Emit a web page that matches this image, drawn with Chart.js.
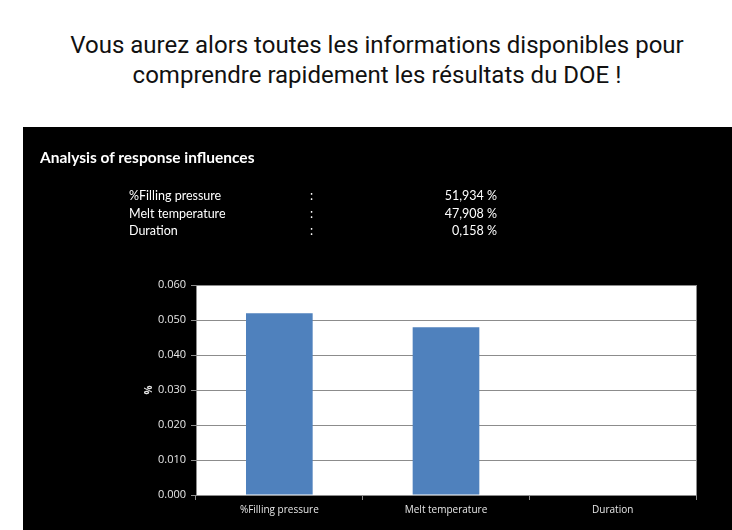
<!DOCTYPE html>
<html lang="fr">
<head>
<meta charset="UTF-8">
<title>Analysis of response influences</title>
<script src="https://cdn.jsdelivr.net/npm/chart.js@4"></script>
<style>
    html, body { margin: 0; padding: 0; background: #fff; }
    body { width: 732px; height: 530px; position: relative; overflow: hidden; }
    .headline {
        position: absolute; left: 0; top: 30px; width: 754px;
        text-align: center; font-family: Roboto, sans-serif; font-size: 24px;
        line-height: 30px; color: #111;
    }
    .panel {
        position: absolute; left: 23px; top: 127px; width: 709px; height: 403px;
        background: #000;
    }
    .panel h2 {
        position: absolute; left: 17px; top: 21px; margin: 0;
        font-family: Lato, sans-serif; font-weight: bold; font-size: 15.5px; color: #fff;
    }
    #stats { position: absolute; left: 0; top: 61px; font-family: Lato, sans-serif; font-size: 12.5px; color: #fff; }
    #stats div { position: relative; height: 17.5px; width: 709px; }
    #stats span { position: absolute; top: 0; white-space: nowrap; }
    #influenceChart { position: absolute; left: 0; top: 0; }
</style>
</head>
<body>
<div class="headline">Vous aurez alors toutes les informations disponibles pour<br>comprendre rapidement les résultats du DOE !</div>
<div class="panel">
    <canvas id="influenceChart" width="709" height="403"></canvas>
    <h2>Analysis of response influences</h2>
    <div id="stats"></div>
</div>
<script>
    const factors = ['%Filling pressure', 'Melt temperature', 'Duration'];
    const influencePct = ['51,934', '47,908', '0,158'];
    const influence = [0.051934, 0.047908, 0.000158];
    const yTicks = [0, 0.01, 0.02, 0.03, 0.04, 0.05, 0.06];

    // text table above the chart
    const stats = document.getElementById('stats');
    factors.forEach((f, i) => {
        const row = document.createElement('div');
        row.innerHTML = '<span style="left:106px">' + f + '</span>' +
            '<span style="left:287px">:</span>' +
            '<span style="right:235px">' + influencePct[i] + ' %</span>';
        stats.appendChild(row);
    });

    // white plot area under the gridlines, plus the grey right edge
    const plotBackground = {
        id: 'plotBackground',
        beforeDraw(chart) {
            const a = chart.chartArea, ctx = chart.ctx;
            ctx.save();
            ctx.fillStyle = '#fff';
            ctx.fillRect(a.left, a.top, a.right - a.left, a.bottom - a.top);
            ctx.restore();
        },
        afterDraw(chart) {
            const a = chart.chartArea, ctx = chart.ctx;
            ctx.save();
            ctx.strokeStyle = '#8c8c8c';
            ctx.lineWidth = 1;
            ctx.beginPath();
            ctx.moveTo(a.right + 0.5, a.top);
            ctx.lineTo(a.right + 0.5, a.bottom);
            ctx.stroke();
            ctx.restore();
        }
    };

    const font = "'Open Sans', sans-serif";

    new Chart(document.getElementById('influenceChart'), {
        type: 'bar',
        data: {
            labels: factors,
            datasets: [{
                data: influence,
                backgroundColor: '#4f81bd',
                borderWidth: 0,
                categoryPercentage: 0.4,
                barPercentage: 1
            }]
        },
        options: {
            responsive: false,
            animation: false,
            layout: { padding: { left: 120, right: 36, top: 158, bottom: 8 } },
            plugins: { legend: { display: false }, tooltip: { enabled: false } },
            scales: {
                x: {
                    grid: { drawOnChartArea: false, drawTicks: true, tickLength: 5, color: '#8c8c8c', offset: true },
                    border: { color: '#8c8c8c' },
                    ticks: { color: '#e6e6e6', font: { family: font, size: 10 }, padding: 4, maxRotation: 0 },
                    afterFit(scale) { scale.height = 27; }
                },
                y: {
                    min: 0,
                    max: 0.06,
                    afterBuildTicks(scale) { scale.ticks = yTicks.map(v => ({ value: v })); },
                    grid: { color: '#8c8c8c', tickLength: 5 },
                    border: { color: '#8c8c8c' },
                    ticks: { color: '#e6e6e6', font: { family: font, size: 11 }, padding: 5, callback: v => v.toFixed(3) },
                    title: { display: true, text: '%', color: '#e6e6e6', font: { family: font, size: 10, weight: 'bold' }, padding: 0 },
                    afterFit(scale) { scale.width = 53; }
                }
            }
        },
        plugins: [plotBackground]
    });
</script>
</body>
</html>
